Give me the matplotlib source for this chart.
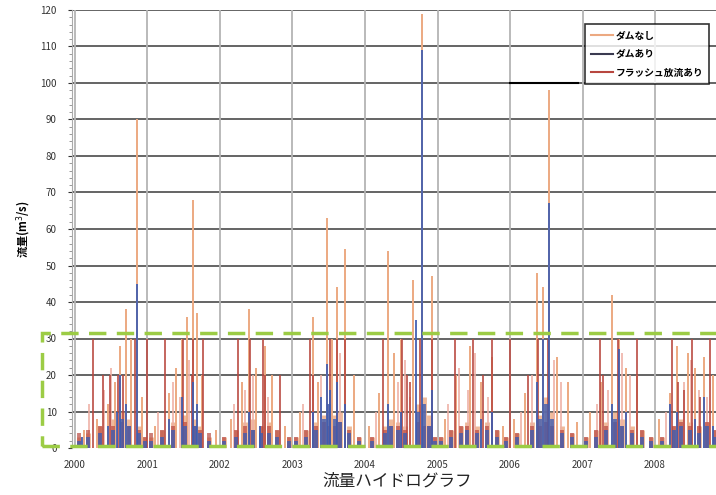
import matplotlib.pyplot as plt
import numpy as np
from matplotlib.lines import Line2D
from matplotlib.patches import Rectangle
from matplotlib.ticker import MultipleLocator

plt.rcParams['font.family'] = ['Noto Sans CJK JP', 'DejaVu Sans']

years = [2000, 2001, 2002, 2003, 2004, 2005, 2006, 2007, 2008]
series_names = ['ダムなし', 'ダムあり', 'フラッシュ放流あり']

# ダムなし (no dam): peak flows of each flood event
nodam_t = [2000.12, 2000.30, 2000.45, 2000.55, 2000.62, 2000.70, 2000.78, 2000.85, 2000.92,
           2001.10, 2001.30, 2001.40, 2001.48, 2001.55, 2001.63, 2001.68, 2001.75, 2001.95,
           2002.15, 2002.30, 2002.40, 2002.50, 2002.62, 2002.72, 2002.90,
           2003.10, 2003.28, 2003.35, 2003.48, 2003.55, 2003.61, 2003.72, 2003.85,
           2004.05, 2004.20, 2004.32, 2004.40, 2004.50, 2004.66, 2004.79, 2004.92,
           2005.10, 2005.25, 2005.45, 2005.60, 2005.75, 2005.90,
           2006.05, 2006.20, 2006.37, 2006.45, 2006.54, 2006.65, 2006.80, 2006.92,
           2007.10, 2007.25, 2007.41, 2007.50, 2007.60, 2007.75,
           2008.05, 2008.20, 2008.30, 2008.45, 2008.55, 2008.68, 2008.80]
nodam_q = [5, 8, 12, 18, 28, 38, 30, 90, 14,
           6, 15, 22, 30, 36, 68, 37, 20, 5,
           8, 18, 38, 22, 28, 20, 6,
           10, 36, 18, 63, 30, 44, 54.5, 20,
           6, 15, 54, 26, 30, 46, 119, 47,
           8, 20, 28, 18, 25, 6,
           8, 15, 48, 44, 98, 25, 18, 7,
           10, 18, 42, 30, 22, 20,
           8, 15, 28, 26, 22, 25, 20]

# smaller rises of the no-dam flow (faint spikes)
minor_t = [2000.20, 2000.40, 2000.50, 2001.15, 2001.35, 2001.45, 2001.58, 2002.20, 2002.35,
           2002.46, 2002.66, 2003.15, 2003.40, 2003.66, 2004.15, 2004.45, 2004.55, 2004.62,
           2005.15, 2005.30, 2005.42, 2005.52, 2005.70, 2006.15, 2006.30, 2006.60, 2006.70,
           2007.20, 2007.35, 2007.55, 2007.66, 2008.15, 2008.40, 2008.50, 2008.60, 2008.72]
minor_q = [12, 16, 22, 10, 18, 14, 24, 12, 16,
           20, 14, 12, 20, 26, 10, 18, 24, 14,
           12, 22, 16, 26, 14, 10, 20, 24, 18,
           12, 16, 26, 20, 10, 18, 24, 16, 14]

# ダムあり (with dam)
dam_t = [2000.10, 2000.45, 2000.58, 2000.62, 2000.70, 2000.85, 2001.30, 2001.48, 2001.63,
         2001.68, 2002.40, 2002.55, 2003.28, 2003.40, 2003.48, 2003.52, 2003.61, 2003.72,
         2004.32, 2004.50, 2004.70, 2004.79, 2004.92, 2005.60, 2005.75, 2006.37, 2006.45,
         2006.54, 2007.41, 2007.50, 2007.60, 2008.20, 2008.30, 2008.55, 2008.68, 2008.80]
dam_q = [3, 6, 10, 20, 12, 45, 8, 14, 18,
         12, 10, 6, 10, 14, 23, 16, 18, 12,
         12, 10, 35, 109, 16, 8, 10, 18, 30,
         67, 12, 27, 10, 12, 10, 8, 14, 6]

# フラッシュ放流あり (flush discharge)
flush_t = [2000.25, 2000.39, 2000.48, 2000.59, 2000.66, 2000.83, 2000.99, 2001.24, 2001.49,
           2001.61, 2001.63, 2001.77, 2002.25, 2002.41, 2002.59, 2002.62, 2002.83, 2003.24,
           2003.28, 2003.52, 2003.61, 2003.72, 2004.25, 2004.51, 2004.58, 2004.62, 2004.76,
           2004.92, 2005.24, 2005.49, 2005.63, 2005.75, 2006.00, 2006.25, 2006.39, 2006.52,
           2007.24, 2007.28, 2007.49, 2007.75, 2008.23, 2008.32, 2008.40, 2008.51, 2008.62,
           2008.76]
flush_q = [30, 20, 20, 20, 20, 30, 30, 30, 30,
           20, 30, 30, 30, 30, 30, 20, 20, 30,
           20, 30, 30, 30, 30, 30, 20, 18, 30,
           30, 30, 30, 20, 30, 30, 20, 30, 30,
           30, 20, 30, 30, 30, 18, 16, 30, 14,
           30]

# low flow between floods (shared days, one value per series)
base_t = [2000.05, 2000.18, 2000.35, 2000.52, 2000.65, 2000.75, 2000.88, 2000.96,
          2001.05, 2001.20, 2001.35, 2001.52, 2001.66, 2001.72, 2001.85,
          2002.05, 2002.22, 2002.35, 2002.45, 2002.57, 2002.68, 2002.78, 2002.95,
          2003.05, 2003.18, 2003.32, 2003.44, 2003.50, 2003.58, 2003.66, 2003.78, 2003.92,
          2004.10, 2004.28, 2004.36, 2004.46, 2004.55, 2004.73, 2004.82, 2004.88, 2004.97,
          2005.05, 2005.18, 2005.32, 2005.40, 2005.55, 2005.68, 2005.82, 2005.95,
          2006.10, 2006.30, 2006.42, 2006.50, 2006.58, 2006.72, 2006.86,
          2007.05, 2007.18, 2007.33, 2007.45, 2007.55, 2007.68, 2007.82, 2007.95,
          2008.10, 2008.26, 2008.36, 2008.48, 2008.60, 2008.72, 2008.83]
base_nodam = [3, 4, 6, 8, 10, 8, 6, 3,
              3, 5, 7, 9, 8, 6, 3,
              3, 5, 7, 8, 6, 7, 5, 3,
              3, 5, 7, 9, 12, 9, 10, 6, 3,
              3, 6, 8, 7, 6, 12, 14, 9, 3,
              3, 5, 6, 7, 6, 7, 5, 3,
              4, 7, 9, 14, 10, 6, 4,
              3, 5, 7, 10, 8, 6, 5, 3,
              3, 6, 8, 7, 6, 7, 5]
base_dam = [2, 3, 4, 5, 8, 6, 4, 2,
            2, 3, 5, 6, 6, 4, 2,
            2, 3, 4, 5, 4, 4, 3, 2,
            2, 3, 5, 8, 12, 8, 7, 4, 2,
            2, 4, 6, 5, 4, 10, 12, 6, 2,
            2, 3, 4, 5, 4, 5, 3, 2,
            3, 5, 8, 12, 8, 4, 3,
            2, 3, 5, 8, 6, 4, 3, 2,
            2, 5, 6, 5, 4, 6, 3]
base_flush = [4, 5, 6, 6, 7, 6, 5, 3,
              4, 5, 6, 7, 6, 5, 4,
              3, 5, 6, 5, 6, 6, 5, 3,
              3, 5, 6, 7, 6, 6, 7, 5, 3,
              3, 5, 6, 6, 5, 7, 6, 6, 3,
              3, 5, 6, 6, 5, 6, 5, 3,
              4, 6, 6, 7, 6, 5, 4,
              3, 5, 6, 7, 6, 5, 5, 3,
              3, 6, 7, 6, 6, 7, 5]

c_nodam = '#eca981'
c_dam = '#3f5cb0'
c_flush = '#b8473f'

fig = plt.figure(figsize=(7.16, 4.95), dpi=100)
ax = fig.add_axes([72 / 716, 47 / 495, 644 / 716, 438 / 495])

ax.set_xlim(1999.96, 2008.84)
ax.set_ylim(0, 120)

# grid
for y in range(10, 121, 10):
    ax.axhline(y, color='#4a4a4a', lw=1.2, zorder=1)
for yr in years:
    ax.axvline(yr, color='#b4b4b4', lw=1.3, zorder=1)

# low flow
ax.vlines(base_t, 0, base_nodam, color=c_nodam, lw=3.5, alpha=0.8, zorder=2)
ax.vlines(base_t, 0, base_flush, color=c_flush, lw=2.8, alpha=0.7, zorder=3)
ax.vlines(base_t, 0, base_dam, color=c_dam, lw=2.8, alpha=0.8, zorder=4)

# flood peaks
ax.vlines(minor_t, 0, minor_q, color='#eeb0a4', lw=1.3, alpha=0.9, zorder=2)
ax.vlines(nodam_t, 0, nodam_q, color=c_nodam, lw=1.4, zorder=2)
ax.vlines(flush_t, 0, flush_q, color=c_flush, lw=1.3, alpha=0.9, zorder=3)
ax.vlines(dam_t, 0, dam_q, color=c_dam, lw=1.4, alpha=0.9, zorder=4)

ax.set_yticks(range(0, 121, 10))
ax.yaxis.set_minor_locator(MultipleLocator(2))
ax.set_xticks(years)
ax.set_xticklabels([str(y) for y in years])
ax.tick_params(axis='y', labelsize=7, colors='#333333', length=3, pad=8)
ax.tick_params(axis='y', which='minor', length=2, color='#888888')
ax.tick_params(axis='x', labelsize=7, colors='#333333', length=0, pad=9)
for s in ['top', 'right', 'bottom']:
    ax.spines[s].set_visible(False)
ax.spines['left'].set_color('#aaaaaa')

ax.set_ylabel('流量(m$^3$/s)', fontsize=8, fontweight='bold', labelpad=6)
fig.text(397 / 716, 1 - 481 / 495, '流量ハイドログラフ', fontsize=12,
         ha='center', va='center', color='#222222')

# leader line to legend
ax.axhline(100, xmin=(510 - 72) / 644, xmax=(578 - 72) / 644, color='black', lw=1.5, zorder=6)

handles = [Line2D([], [], color=c_nodam, lw=1.5),
           Line2D([], [], color='#3a3a50', lw=1.5),
           Line2D([], [], color=c_flush, lw=1.5)]
leg = ax.legend(handles, series_names, loc='upper right', bbox_to_anchor=(0.997, 0.978),
                fontsize=7, frameon=True, fancybox=False, handlelength=2.2,
                borderpad=0.6, labelspacing=0.9, handletextpad=0.3,
                prop={'weight': 'bold', 'size': 7})
leg.get_frame().set_edgecolor('black')
leg.get_frame().set_linewidth(1.2)
leg.set_zorder(10)

# highlighted low-flow band
fig.patches.append(Rectangle((42 / 716, 49 / 495), 0.98, 113 / 495, transform=fig.transFigure,
                             fill=False, edgecolor='#9ccc45', lw=2.5, linestyle=(0, (5, 3)),
                             zorder=20))

fig.savefig('out.png', dpi=100)
